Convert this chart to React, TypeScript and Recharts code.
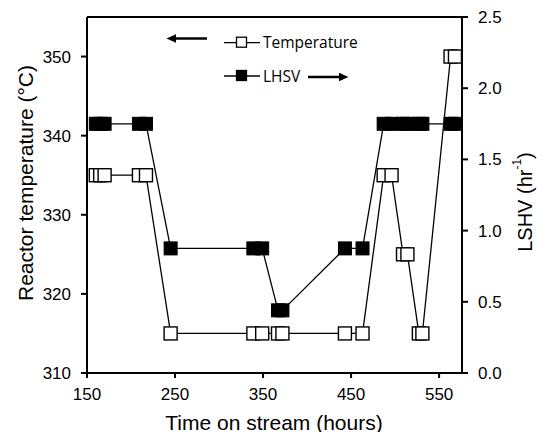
import React from "react";
import {
  ComposedChart,
  Line,
  XAxis,
  YAxis,
  ReferenceLine,
} from "recharts";

if (typeof document !== "undefined") {
  document.body.style.margin = "0";
  document.body.style.overflow = "hidden";
}

const times = [160, 165, 170, 209, 217, 245, 339, 349, 367, 372, 443, 463, 487, 496, 509, 514, 527, 531, 563, 568];
const temperature = [335, 335, 335, 335, 335, 315, 315, 315, 315, 315, 315, 315, 335, 335, 325, 325, 315, 315, 350, 350];
const lhsv = [1.75, 1.75, 1.75, 1.75, 1.75, 0.875, 0.875, 0.875, 0.44, 0.44, 0.875, 0.875, 1.75, 1.75, 1.75, 1.75, 1.75, 1.75, 1.75, 1.75];

const xTicks = [150, 250, 350, 450, 550];
const leftTicks = [310, 320, 330, 340, 350];
const rightTicks = [0, 0.5, 1.0, 1.5, 2.0, 2.5];

const data = times.map((t, i) => ({ t, temperature: temperature[i], lhsv: lhsv[i] }));

const W = 541;
const H = 432;
const AXIS_FONT = "'Liberation Sans', Arial, sans-serif";
const LEGEND_FONT = "'Open Sans', 'Liberation Sans', sans-serif";

const tickStyle = { fill: "#000", fontSize: 17, fontFamily: AXIS_FONT };
const axisLine = { stroke: "#000", strokeWidth: 2 };
const tickLine = { stroke: "#000", strokeWidth: 2 };

const OpenSquare = (props: any) => {
  const { cx, cy, index } = props;
  if (cx == null || cy == null) return <g key={`o-${index}`} />;
  return (
    <rect
      key={`o-${index}`}
      x={cx - 6.5}
      y={cy - 6.5}
      width={13}
      height={13}
      fill="#fff"
      stroke="#000"
      strokeWidth={1.4}
    />
  );
};

const FilledSquare = (props: any) => {
  const { cx, cy, index } = props;
  if (cx == null || cy == null) return <g key={`f-${index}`} />;
  return (
    <rect
      key={`f-${index}`}
      x={cx - 6.5}
      y={cy - 6.5}
      width={13}
      height={13}
      fill="#000"
      stroke="#000"
      strokeWidth={1}
    />
  );
};

export default function App() {
  return (
    <div style={{ position: "relative", width: W, height: H, background: "#fff", overflow: "hidden" }}>
      <ComposedChart
        width={W}
        height={H}
        data={data}
        margin={{ top: 17, right: 0, left: 0, bottom: 0 }}
      >
        <XAxis
          type="number"
          dataKey="t"
          domain={[150, 576]}
          ticks={xTicks}
          allowDataOverflow
          height={59}
          tickSize={5}
          tickMargin={10}
          axisLine={axisLine}
          tickLine={tickLine}
          tick={tickStyle}
        />
        <YAxis
          yAxisId="left"
          orientation="left"
          domain={[310, 355]}
          ticks={leftTicks}
          allowDataOverflow
          width={87}
          tickSize={6}
          tickMargin={10}
          axisLine={axisLine}
          tickLine={tickLine}
          tick={tickStyle}
        />
        <YAxis
          yAxisId="right"
          orientation="right"
          domain={[0, 2.5]}
          ticks={rightTicks}
          allowDataOverflow
          width={79}
          tickSize={6}
          tickMargin={10}
          axisLine={axisLine}
          tickLine={tickLine}
          tick={tickStyle}
          tickFormatter={(v: number) => v.toFixed(1)}
        />
        <ReferenceLine yAxisId="left" y={355} stroke="#000" strokeWidth={2} ifOverflow="visible" />
        <Line
          yAxisId="right"
          dataKey="lhsv"
          type="linear"
          stroke="#000"
          strokeWidth={1.3}
          dot={FilledSquare}
          activeDot={false}
          isAnimationActive={false}
        />
        <Line
          yAxisId="left"
          dataKey="temperature"
          type="linear"
          stroke="#000"
          strokeWidth={1.3}
          dot={OpenSquare}
          activeDot={false}
          isAnimationActive={false}
        />
      </ComposedChart>
      <svg
        width={W}
        height={H}
        style={{ position: "absolute", left: 0, top: 0, pointerEvents: "none" }}
      >
        {/* axis titles */}
        <text
          x={274}
          y={422}
          textAnchor="middle"
          dominantBaseline="central"
          fontFamily={AXIS_FONT}
          fontSize={21}
          fill="#000"
        >
          Time on stream (hours)
        </text>
        <text
          transform="translate(25,183) rotate(-90)"
          textAnchor="middle"
          dominantBaseline="central"
          fontFamily={AXIS_FONT}
          fontSize={21}
          fill="#000"
        >
          Reactor temperature (°C)
        </text>
        <text
          transform="translate(525,202) rotate(-90)"
          textAnchor="middle"
          dominantBaseline="central"
          fontFamily={AXIS_FONT}
          fontSize={20}
          fill="#000"
        >
          LSHV (hr<tspan fontSize={12} dy={-8}>-1</tspan>
          <tspan dy={8}>)</tspan>
        </text>
        {/* legend */}
        <line x1={172} y1={38.5} x2={207} y2={38.5} stroke="#000" strokeWidth={2.5} />
        <polygon points="166.5,38.5 176,34.3 176,42.7" fill="#000" />
        <line x1={224} y1={42.7} x2={260} y2={42.7} stroke="#000" strokeWidth={1.3} />
        <rect x={236.5} y={37.2} width={10} height={10} fill="#fff" stroke="#000" strokeWidth={1.3} />
        <text x={263} y={48.3} fontFamily={LEGEND_FONT} fontSize={15.5} fill="#000">
          Temperature
        </text>
        <line x1={224} y1={76} x2={260} y2={76} stroke="#000" strokeWidth={1.3} />
        <rect x={236.5} y={70.5} width={10} height={10} fill="#000" stroke="#000" strokeWidth={1.3} />
        <text x={263} y={81.6} fontFamily={LEGEND_FONT} fontSize={15.5} fill="#000">
          LHSV
        </text>
        <line x1={308} y1={77} x2={343} y2={77} stroke="#000" strokeWidth={2.5} />
        <polygon points="348.5,77 339,72.8 339,81.2" fill="#000" />
      </svg>
    </div>
  );
}
